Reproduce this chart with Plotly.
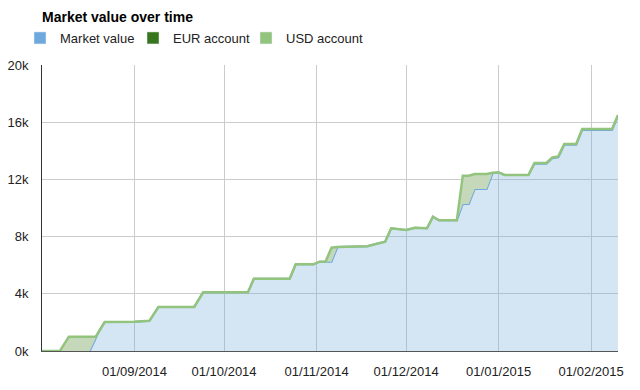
import plotly.graph_objects as go

# ---- data ----
dates = ["2014-08-01", "2014-08-07", "2014-08-10", "2014-08-17", "2014-08-19",
         "2014-08-20", "2014-08-22", "2014-09-01", "2014-09-06", "2014-09-09",
         "2014-09-21", "2014-09-24", "2014-10-09", "2014-10-11", "2014-10-23",
         "2014-10-25", "2014-10-31", "2014-11-02", "2014-11-04", "2014-11-06",
         "2014-11-08", "2014-11-18", "2014-11-21", "2014-11-24", "2014-11-26",
         "2014-12-01", "2014-12-04", "2014-12-08", "2014-12-10", "2014-12-12",
         "2014-12-18", "2014-12-20", "2014-12-22", "2014-12-24", "2014-12-28",
         "2014-12-30", "2015-01-01", "2015-01-03", "2015-01-11", "2015-01-13",
         "2015-01-17", "2015-01-19", "2015-01-21", "2015-01-23", "2015-01-27",
         "2015-01-29", "2015-02-08", "2015-02-10"]

market_value = [0, 0, 0, 0, 890,
                1340, 2020, 2040, 2110, 3080,
                3080, 4100, 4100, 5060, 5060,
                6060, 6060, 6250, 6250, 6250,
                7270, 7320, 7500, 7650, 8580,
                8460, 8620, 8580, 9390, 9140,
                9140, 10280, 10280, 11330, 11330,
                12430, 12490, 12310, 12310, 13090,
                13090, 13480, 13550, 14420, 14420,
                15460, 15460, 16440]

eur_account = [0] * len(dates)

usd_account = [0, 0, 1000, 1000, 110,
               0, 0, 0, 0, 0,
               0, 0, 0, 0, 0,
               0, 0, 0, 0, 970,
               0, 0, 0, 0, 0,
               0, 0, 0, 0, 0,
               0, 1980, 1980, 1050, 1050,
               40, 0, 0, 0, 60,
               60, 60, 60, 60, 60,
               60, 60, 60]

y_tick_values = [0, 4000, 8000, 12000, 16000, 20000]
y_tick_labels = ["0k", "4k", "8k", "12k", "16k", "20k"]
x_tick_values = ["2014-09-01", "2014-10-01", "2014-11-01", "2014-12-01",
                 "2015-01-01", "2015-02-01"]
x_tick_labels = ["01/09/2014", "01/10/2014", "01/11/2014", "01/12/2014",
                 "01/01/2015", "01/02/2015"]

series_names = ["Market value", "EUR account", "USD account"]
series_colors = ["#6fa8dc", "#38761d", "#93c47d"]
legend_ids = ["legend", "legend2", "legend3"]

FONT = "Arial, 'Liberation Sans', Helvetica, sans-serif"
W, H = 640, 390
ML, MR, MT, MB = 42, 22, 65, 39
PW, PH = W - ML - MR, H - MT - MB

fig = go.Figure()

fig.add_trace(go.Scatter(
    x=dates, y=market_value, name=series_names[0], stackgroup="one",
    mode="lines", line=dict(color=series_colors[0], width=2),
    fill="tozeroy", fillcolor="rgba(111,168,220,0.3)", showlegend=False))
fig.add_trace(go.Scatter(
    x=dates, y=eur_account, name=series_names[1], stackgroup="one",
    mode="lines", line=dict(color=series_colors[1], width=0),
    fill="tonexty", fillcolor="rgba(56,118,29,0.3)", showlegend=False))
fig.add_trace(go.Scatter(
    x=dates, y=usd_account, name=series_names[2], stackgroup="one",
    mode="lines", line=dict(color=series_colors[2], width=2.5),
    fill="tonexty", fillcolor="rgb(197,217,186)", showlegend=False))

# legend entries with square swatches, one legend box per entry
for name, color, lid in zip(series_names, series_colors, legend_ids):
    fig.add_trace(go.Bar(x=[None], y=[None], name=name, marker_color=color,
                         showlegend=True, legend=lid))

legend_text_x = [61, 174, 287]
legend_style = dict(orientation="h", xanchor="left", yanchor="top",
                    font=dict(family=FONT, size=13, color="#222222"),
                    bgcolor="rgba(0,0,0,0)", borderwidth=0)
legend_layout = {}
for lid, tx in zip(legend_ids, legend_text_x):
    legend_layout[lid] = dict(legend_style,
                              x=(tx - 41 - ML) / PW,
                              y=1 + (MT - 23) / PH)

fig.update_layout(
    width=W, height=H,
    margin=dict(l=ML, r=MR, t=MT, b=MB, autoexpand=False),
    paper_bgcolor="white", plot_bgcolor="white",
    font=dict(family=FONT, size=13, color="#222222"),
    title=dict(text="<b>Market value over time</b>",
               font=dict(family=FONT, size=14, color="#000000"),
               x=ML / W, xanchor="left", xref="container",
               y=1 - 17 / H, yanchor="middle", yref="container"),
    showlegend=True,
    **legend_layout,
)

fig.update_xaxes(
    type="date", range=["2014-08-01", "2015-02-10"],
    tickvals=x_tick_values, ticktext=x_tick_labels,
    showgrid=True, gridcolor="#cccccc", gridwidth=1,
    showline=True, linecolor="#555555", linewidth=1,
    ticks="", ticklabelstandoff=8, zeroline=False, automargin=False,
    tickfont=dict(family=FONT, size=13, color="#222222"),
    fixedrange=True,
)
fig.update_yaxes(
    range=[0, 20000],
    tickvals=y_tick_values, ticktext=y_tick_labels,
    showgrid=True, gridcolor="#cccccc", gridwidth=1,
    showline=True, linecolor="#333333", linewidth=1,
    ticks="", ticklabelstandoff=10, zeroline=False, automargin=False,
    tickfont=dict(family=FONT, size=13, color="#222222"),
    fixedrange=True,
)

fig.write_html("out.html",
               config={"displayModeBar": False},
               post_script="document.body.style.margin='0px';")
